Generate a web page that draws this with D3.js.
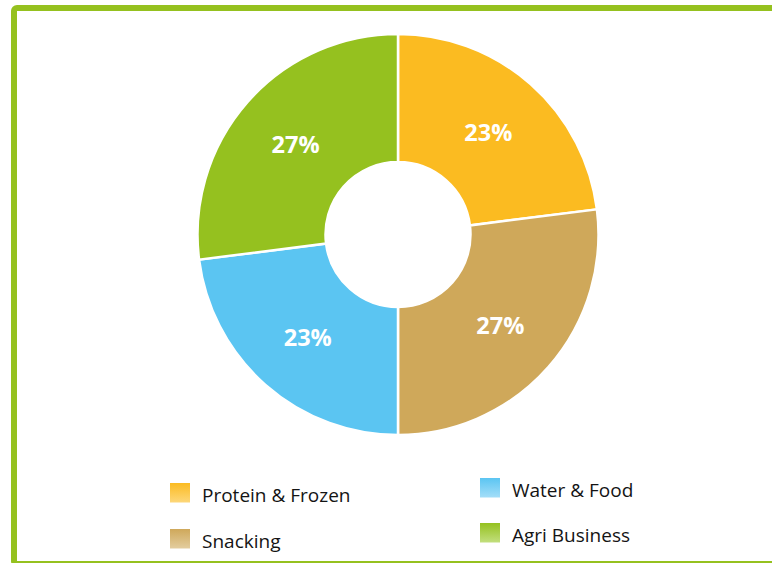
<!DOCTYPE html>
<html>
<head>
<meta charset="utf-8">
<script src="https://cdn.jsdelivr.net/npm/d3@7"></script>
<style>
  html, body { margin: 0; padding: 0; background: #ffffff; }
  svg { display: block; }
</style>
</head>
<body>
<svg id="chart" width="772" height="563"></svg>
<script>
// Business segments and their share of the total (percent)
const segments = ["Protein & Frozen", "Snacking", "Water & Food", "Agri Business"];
const shares = [23, 27, 23, 27];
const colors = ["#fbbb21", "#cfa85a", "#5bc5f2", "#95c11f"];
const lightColors = ["#fdd77a", "#e3cd9f", "#a4def8", "#c2df7e"];

const W = 772, H = 563;
const svg = d3.select("#chart");

// Green frame (runs off the right and bottom edges)
svg.append("rect")
  .attr("x", 14).attr("y", 8)
  .attr("width", 800).attr("height", 556)
  .attr("rx", 3)
  .attr("fill", "none")
  .attr("stroke", "#95c11f")
  .attr("stroke-width", 6);

// Donut
const cx = 398, cy = 234.5;
const outerR = 200.5, innerR = 72.5;

const data = segments.map((name, i) => ({ name, value: shares[i], color: colors[i] }));
const pie = d3.pie().value(d => d.value).sort(null);
const arc = d3.arc().innerRadius(innerR).outerRadius(outerR);
const labelArc = d3.arc().innerRadius(innerR).outerRadius(outerR);

const g = svg.append("g").attr("transform", `translate(${cx},${cy})`);
const arcs = pie(data);

g.selectAll("path.slice")
  .data(arcs)
  .join("path")
  .attr("class", "slice")
  .attr("d", arc)
  .attr("fill", d => d.data.color)
  .attr("stroke", "#ffffff")
  .attr("stroke-width", 2.5);

g.selectAll("text.pct")
  .data(arcs)
  .join("text")
  .attr("class", "pct")
  .attr("transform", d => `translate(${labelArc.centroid(d)})`)
  .attr("text-anchor", "middle")
  .attr("dy", "0.38em")
  .attr("fill", "#ffffff")
  .attr("font-family", "'Open Sans', sans-serif")
  .attr("font-weight", 700)
  .attr("font-size", 23.5)
  .text(d => d.data.value + "%");

// Legend swatches use a vertical gradient, darker at the top
const defs = svg.append("defs");
colors.forEach((c, i) => {
  const grad = defs.append("linearGradient")
    .attr("id", "sw" + i)
    .attr("x1", 0).attr("y1", 0).attr("x2", 0).attr("y2", 1);
  grad.append("stop").attr("offset", "0%").attr("stop-color", c);
  grad.append("stop").attr("offset", "100%").attr("stop-color", lightColors[i]);
});

// Legend layout: two columns, the right column sits a little higher
const legendPos = [
  { x: 170, y: 483 },
  { x: 170, y: 529 },
  { x: 480, y: 478 },
  { x: 480, y: 523 }
];

const legend = svg.append("g");
const items = legend.selectAll("g.item")
  .data(data)
  .join("g")
  .attr("class", "item")
  .attr("transform", (d, i) => `translate(${legendPos[i].x},${legendPos[i].y})`);

items.append("rect")
  .attr("width", 20).attr("height", 19.5)
  .attr("fill", (d, i) => `url(#sw${i})`);

items.append("text")
  .attr("x", 32).attr("y", 19)
  .attr("fill", "#141414")
  .attr("font-family", "'Open Sans', sans-serif")
  .attr("font-size", 19)
  .text(d => d.name);
</script>
</body>
</html>
